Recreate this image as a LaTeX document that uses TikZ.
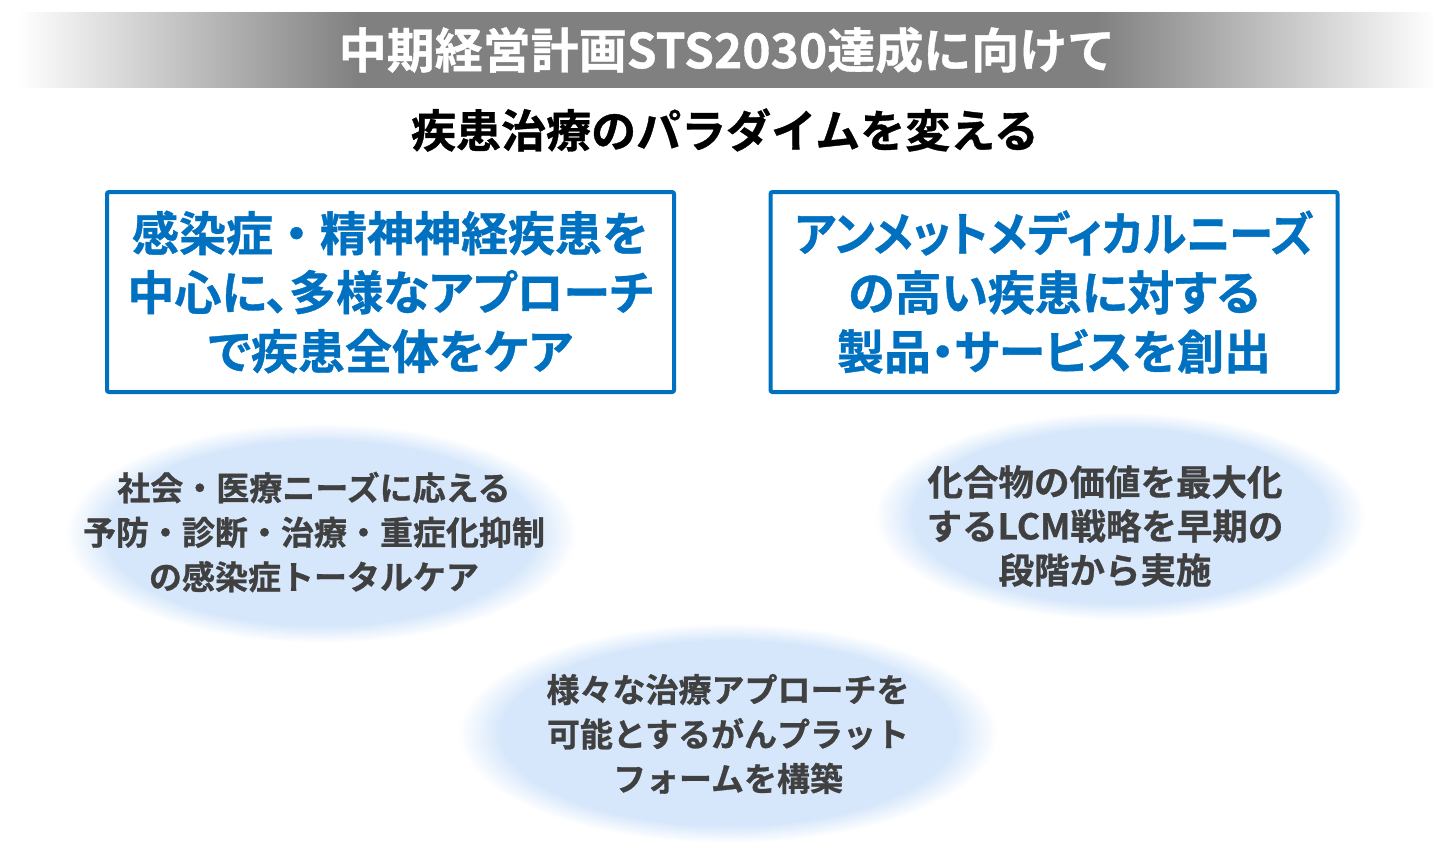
\documentclass[tikz,border=0pt]{standalone}
\usepackage{fontspec}
\newfontfamily\jpb{Noto Sans CJK JP Bold}[FakeBold=0.8]
\newfontfamily\jpbp{Noto Sans CJK JP Bold}[FakeBold=0.8,RawFeature=+palt]
\definecolor{boxblue}{RGB}{0,112,192}
\definecolor{glowblue}{RGB}{214,231,251}
\definecolor{bargray}{RGB}{128,128,128}
\definecolor{textgray}{RGB}{64,64,64}
\pgfdeclarehorizontalshading{banner}{100bp}{color(0bp)=(white); color(25bp)=(white); color(37bp)=(bargray); color(63bp)=(bargray); color(75bp)=(white); color(100bp)=(white)}
\pgfdeclareradialshading{glow}{\pgfpoint{0bp}{0bp}}{color(0bp)=(glowblue); color(21bp)=(glowblue); color(25bp)=(white); color(50bp)=(white)}
\begin{document}
\begin{tikzpicture}[x=1pt,y=-1pt,
  titletext/.style={text=white,font=\jpb\fontsize{48}{56}\selectfont,inner sep=0pt},
  subtext/.style={text=black,font=\jpb\fontsize{45}{52}\selectfont,inner sep=0pt},
  bluebox/.style={draw=boxblue,line width=4pt,rounded corners=2pt,fill=white,
    text=boxblue,align=center,font=\jpbp\fontsize{47}{59}\selectfont,
    minimum width=567pt,minimum height=200pt,inner sep=0pt},
  eltext/.style={text=textgray,align=center,font=\jpb\fontsize{33}{44.5}\selectfont,inner sep=0pt},
  blob/.style={shading=glow}]
\useasboundingbox (0,0) rectangle (1456,863);
\fill[white] (0,0) rectangle (1456,863);
% banner
\shade[shading=banner] (18,12) rectangle (1436,87);
\node[titletext] (title) at (727,50) {中期経営計画STS2030達成に向けて};
\node[subtext] (sub) at (725,130) {疾患治療のパラダイムを変える};
% boxes
\node[bluebox] (b1) at (390.5,292) {{\jpb 感染症・精神神経疾患を}\\中心に、多様なアプローチ\\で疾患全体をケア};
\node[bluebox] (b2) at (1054,292) {\scalebox{0.945}[1]{アンメットメディカルニーズ}\\の高い疾患に対する\\製品・サービスを創出};
% blobs
\shade[blob] (321,533) ellipse [x radius=256pt, y radius=110pt];
\shade[blob] (1120,516) ellipse [x radius=246pt, y radius=104pt];
\shade[blob] (728,733) ellipse [x radius=270pt, y radius=110pt];
\node[eltext] (e1) at (314,532) {社会・医療ニーズに応える\\予防・診断・治療・重症化抑制\\の感染症トータルケア};
\node[eltext,font=\jpb\fontsize{35.5}{44}\selectfont] (e2) at (1105,526) {化合物の価値を最大化\\するLCM戦略を早期の\\段階から実施};
\node[eltext] (e3) at (728,734) {様々な治療アプローチを\\可能とするがんプラット\\フォームを構築};
\end{tikzpicture}
\end{document}
